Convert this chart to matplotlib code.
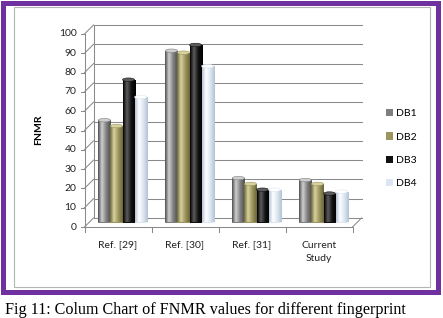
import matplotlib.pyplot as plt
import numpy as np
from matplotlib.patches import Rectangle, Ellipse
from matplotlib.colors import LinearSegmentedColormap

plt.rcParams['font.family'] = ['Lato', 'DejaVu Sans']

# Data
categories = ['Ref. [29]', 'Ref. [30]', 'Ref. [31]', 'Current\nStudy']
series = ['DB1', 'DB2', 'DB3', 'DB4']
db1 = [53, 89, 23, 22]
db2 = [50, 88, 20, 20]
db3 = [74, 92, 17, 15]
db4 = [65, 81, 17, 16]
yticks = list(range(0, 101, 10))

base = ['#7f7f7f', '#9c955f', '#111111', '#dce6f2']
light = ['#cfcfcf', '#d8d29e', '#5c5c5c', '#ffffff']
dark = ['#505050', '#6b6538', '#000000', '#b4c2d3']

W, H = 443, 318
fig = plt.figure(figsize=(W/100, H/100), dpi=100)

def fx(x):
    return x / W

def fy(y):
    return 1 - y / H

# purple frame, grey chart border, caption
fig.add_artist(Rectangle((fx(2.5), fy(291.5)), fx(435), 289/H, fill=False,
                         ec='#7030a0', lw=3.6, transform=fig.transFigure))
fig.add_artist(Rectangle((fx(14), fy(287)), fx(416), 280/H, fill=False,
                         ec='#b4b4b4', lw=0.8, transform=fig.transFigure))
fig.text(fx(5), fy(310), 'Fig 11: Colum Chart of FNMR values for different fingerprint',
         family='Liberation Serif', fontsize=11.6, va='center')

ax = fig.add_axes([fx(89), fy(222.5), fx(268), 193/H])
ax.set_axis_off()

# pseudo 3D depth offsets in data units
dx = 4.5 / 67
dy = 4.5 / 1.93
x0, x1 = -0.5, len(categories) - 0.5
gc = '#8a8a8a'
glw = 0.75

# back wall gridlines and left wall diagonals
for y in yticks:
    ax.plot([x0 + dx, x1 + dx], [y + dy, y + dy], color=gc, lw=glw, zorder=1, clip_on=False)
    ax.plot([x0 - dx, x0 + dx], [y - dy, y + dy], color=gc, lw=glw, zorder=1, clip_on=False)
    ax.plot([x0 - dx - 0.05, x0 - dx], [y - dy, y - dy], color=gc, lw=glw, zorder=1, clip_on=False)
    ax.text(x0 - dx - 0.12, y - dy, str(y), ha='right', va='center', fontsize=7.5, color='#222222')

ax.plot([x0 + dx, x0 + dx], [dy, 100 + dy], color=gc, lw=glw, zorder=1, clip_on=False)
ax.plot([x0 - dx, x0 - dx], [-dy, 100 - dy], color=gc, lw=glw, zorder=1, clip_on=False)
# floor
ax.plot([x0 - dx, x1 - dx], [-dy, -dy], color=gc, lw=glw, zorder=1, clip_on=False)
ax.plot([x1 - dx, x1 + dx], [-dy, dy], color=gc, lw=glw, zorder=1, clip_on=False)
for xs in np.arange(x0, x1 + 0.01, 1.0):
    ax.plot([xs - dx, xs - dx], [-dy, -dy - 2.6], color=gc, lw=glw, zorder=1, clip_on=False)

for i, c in enumerate(categories):
    ax.text(i - dx, -dy - 7.0, c, ha='center', va='top', fontsize=7.5,
            linespacing=1.65, color='#222222')

fig.text(fx(38.5), fy(130), 'FNMR', rotation=90, fontweight='bold',
         ha='center', va='center', fontsize=7.5)

# cylinder bars
w = 0.18
grad = np.linspace(0, 1, 64).reshape(1, -1)
handles = []
for k, (name, vals) in enumerate(zip(series, [db1, db2, db3, db4])):
    xs = np.arange(len(categories)) + (k - 1.5) * w
    bars = ax.bar(xs, vals, w, color=base[k], label=name, zorder=3)
    handles.append(bars)
    cmap = LinearSegmentedColormap.from_list(
        name, [(0, dark[k]), (0.3, light[k]), (0.65, base[k]), (1, dark[k])])
    for b, v in zip(bars, vals):
        ax.add_patch(Ellipse((b.get_x() + w/2, 0), w, 1.8, fc=dark[k], ec='none', zorder=2))
        im = ax.imshow(grad, extent=[b.get_x(), b.get_x() + w, 0, v], aspect='auto',
                       cmap=cmap, zorder=4)
        im.set_clip_path(b)
        ax.add_patch(Ellipse((b.get_x() + w/2, v), w, 1.8, fc=light[k], ec=base[k],
                             lw=0.4, zorder=5))

ax.set_xlim(x0, x1)
ax.set_ylim(0, 100)

ax.legend(handles=handles, loc='upper left', bbox_to_anchor=(fx(386), fy(109)),
          bbox_transform=fig.transFigure, frameon=False, fontsize=7.5,
          handlelength=0.7, handleheight=0.7, handletextpad=0.3,
          labelspacing=1.35, borderpad=0, borderaxespad=0)

fig.savefig('out.png', dpi=100)
